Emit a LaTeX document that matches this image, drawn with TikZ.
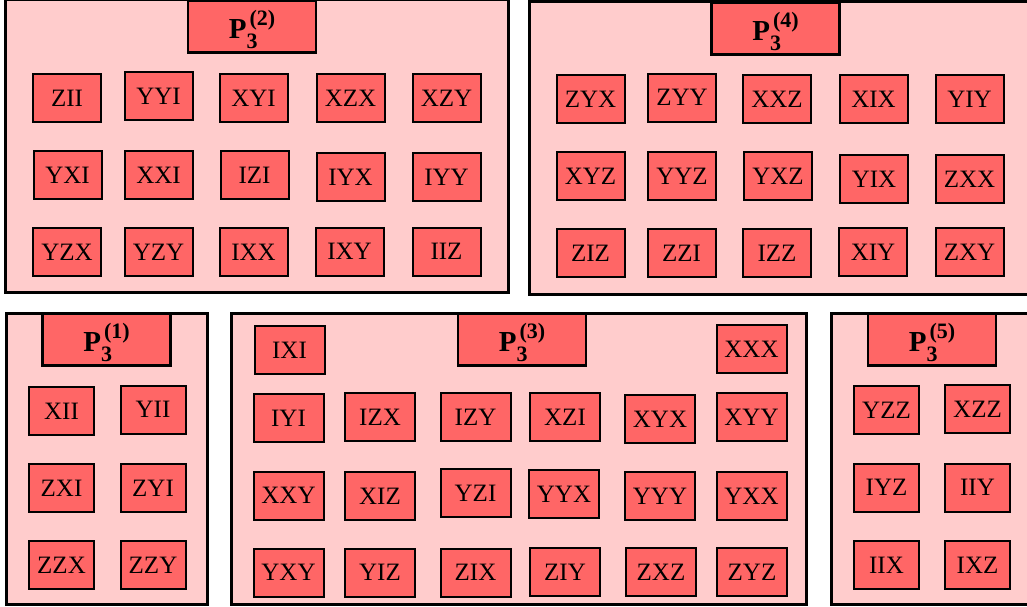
\documentclass[tikz,border=0pt]{standalone}
\usepackage{fontspec}
\setmainfont{Liberation Serif}
\definecolor{panelfill}{HTML}{FFCCCC}
\definecolor{cellfill}{HTML}{FF6666}
\tikzset{
  panel/.style={draw=black, fill=panelfill, line width=3pt},
  cell/.style={draw=black, fill=cellfill, line width=2pt, minimum width=68pt,
    minimum height=48pt, inner sep=0pt, font=\fontsize{25}{25}\selectfont},
  narrowcell/.style={cell, minimum width=65pt},
  widecell/.style={cell, minimum width=70pt},
  titlebox/.style={draw=black, fill=cellfill, line width=2.75pt, minimum width=128pt,
    minimum height=52pt, inner sep=0pt, font=\fontsize{29}{29}\selectfont\bfseries},
}
% bold P with subscript 3 and a bracketed superscript index
\newcommand{\scriptsz}{\fontsize{22}{22}\selectfont}
\newcommand{\pthree}[1]{\rule{0pt}{34pt}P\rlap{\raisebox{-10pt}{\scriptsz 3}}\kern3pt\raisebox{13pt}{\scriptsz(#1)}\hspace{11pt}}
\begin{document}
\begin{tikzpicture}[x=1pt, y=-1pt]
  \clip (0,0) rectangle (1027,606);

  % group panels
  \draw[panel] (5.5,-1) rectangle (508,292);
  \draw[panel] (529.5,1) rectangle (1040,294);
  \draw[panel] (6,313) rectangle (207,604.5);
  \draw[panel] (231,313) rectangle (806,604.5);
  \draw[panel] (831,313) rectangle (1040,604.5);

  % titles
  \node[titlebox] (t2) at (252,26.5) {\pthree{2}};
  \node[titlebox] (t4) at (775.5,28.5) {\pthree{4}};
  \node[titlebox] (t1) at (106.5,339.5) {\pthree{1}};
  \node[titlebox] (t3) at (522,339.5) {\pthree{3}};
  \node[titlebox] (t5) at (932,339.5) {\pthree{5}};

  % group 2
  \node[cell] (a1) at (67,98) {ZII};
  \node[cell] (a2) at (158.5,96) {YYI};
  \node[cell] (a3) at (253.5,98) {XYI};
  \node[cell] (a4) at (350.5,98) {XZX};
  \node[cell] (a5) at (446.5,98) {XZY};
  \node[cell] (a6) at (67.5,175) {YXI};
  \node[cell] (a7) at (158.5,175) {XXI};
  \node[cell] (a8) at (254.5,175) {IZI};
  \node[cell] (a9) at (350.5,177) {IYX};
  \node[cell] (a10) at (446.5,177) {IYY};
  \node[cell] (a11) at (67,252) {YZX};
  \node[cell] (a12) at (158.5,252) {YZY};
  \node[cell] (a13) at (253.5,252) {IXX};
  \node[cell] (a14) at (349.5,251.5) {IXY};
  \node[cell] (a15) at (446.5,251.5) {IIZ};

  % group 4
  \node[cell] (b1) at (590.5,99) {ZYX};
  \node[cell] (b2) at (682,97.5) {ZYY};
  \node[cell] (b3) at (777,99) {XXZ};
  \node[cell] (b4) at (873.5,99) {XIX};
  \node[cell] (b5) at (969.5,99) {YIY};
  \node[cell] (b6) at (590.5,176) {XYZ};
  \node[cell] (b7) at (682,176) {YYZ};
  \node[cell] (b8) at (778,176) {YXZ};
  \node[cell] (b9) at (874,179) {YIX};
  \node[cell] (b10) at (969.5,179) {ZXX};
  \node[cell] (b11) at (590.5,253) {ZIZ};
  \node[cell] (b12) at (681.5,253) {ZZI};
  \node[cell] (b13) at (777,253) {IZZ};
  \node[cell] (b14) at (873,252) {XIY};
  \node[cell] (b15) at (969.5,252) {ZXY};

  % group 1
  \node[narrowcell] (c1) at (61.5,411) {XII};
  \node[narrowcell] (c2) at (153,409.5) {YII};
  \node[narrowcell] (c3) at (61.5,488) {ZXI};
  \node[narrowcell] (c4) at (153,488) {ZYI};
  \node[narrowcell] (c5) at (61.5,565) {ZZX};
  \node[narrowcell] (c6) at (153,565) {ZZY};

  % group 3
  \node[widecell] (d1) at (289.5,350) {IXI};
  \node[widecell] (d2) at (751.5,349) {XXX};
  \node[widecell] (d3) at (288.5,418) {IYI};
  \node[widecell] (d4) at (380,417) {IZX};
  \node[widecell] (d5) at (475.5,417) {IZY};
  \node[widecell] (d6) at (565,417) {XZI};
  \node[widecell] (d7) at (660,419) {XYX};
  \node[widecell] (d8) at (751.5,417) {XYY};
  \node[widecell] (d9) at (288.5,495.5) {XXY};
  \node[widecell] (d10) at (380,496) {XIZ};
  \node[widecell] (d11) at (475.5,493) {YZI};
  \node[widecell] (d12) at (564,494) {YYX};
  \node[widecell] (d13) at (660,496) {YYY};
  \node[widecell] (d14) at (751.5,496) {YXX};
  \node[widecell] (d15) at (288.5,572.5) {YXY};
  \node[widecell] (d16) at (380,572.5) {YIZ};
  \node[widecell] (d17) at (475.5,572.5) {ZIX};
  \node[widecell] (d18) at (565,572) {ZIY};
  \node[widecell] (d19) at (661,572) {ZXZ};
  \node[widecell] (d20) at (752,572) {ZYZ};

  % group 5
  \node[narrowcell] (e1) at (886.5,410) {YZZ};
  \node[narrowcell] (e2) at (977.5,409) {XZZ};
  \node[narrowcell] (e3) at (886.5,487.5) {IYZ};
  \node[narrowcell] (e4) at (977.5,487.5) {IIY};
  \node[narrowcell] (e5) at (886.5,565) {IIX};
  \node[narrowcell] (e6) at (977.5,565) {IXZ};
\end{tikzpicture}
\end{document}
